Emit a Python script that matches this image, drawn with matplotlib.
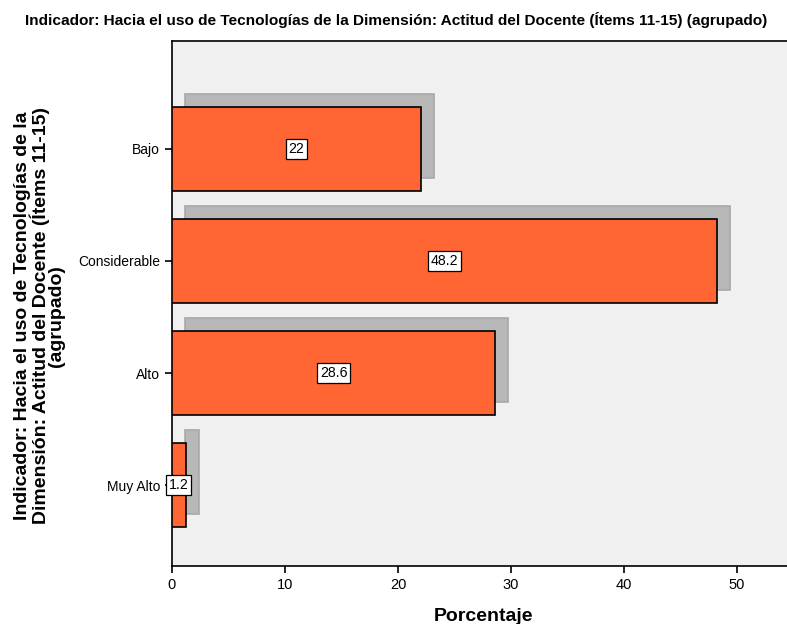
import matplotlib
matplotlib.use("Agg")
import matplotlib.pyplot as plt

categories = ["Bajo", "Considerable", "Alto", "Muy Alto"]
values = [22.0, 48.2, 28.6, 1.2]
xticks = [0, 10, 20, 30, 40, 50]

title = "Indicador: Hacia el uso de Tecnologías de la Dimensión: Actitud del Docente (Ítems 11-15) (agrupado)"
ylabel = "Indicador: Hacia el uso de Tecnologías de la\nDimensión: Actitud del Docente (Ítems 11-15)\n(agrupado)"
xlabel = "Porcentaje"

plt.rcParams["font.family"] = ["Liberation Sans", "DejaVu Sans"]

W, H = 787, 624
fig = plt.figure(figsize=(W / 100, H / 100), dpi=100)
ax_w = (W + 8 - 172) / W
ax = fig.add_axes([172 / W, 1 - 566 / H, ax_w, (566 - 41) / H])
ax.set_facecolor("#f0f0f0")

n = len(categories)
pos = [n - 1 - i for i in range(n)]
h = 0.75
dx, dy = 1.15, 0.115
for p, v in zip(pos, values):
    ax.barh(p + dy, v, left=dx, height=h, color="#b8b8b8", edgecolor="#a8a8a8", linewidth=1.2, zorder=2)
for p, v in zip(pos, values):
    ax.barh(p, v, height=h, color="#ff6633", edgecolor="black", linewidth=1.2, zorder=3)
    ax.text(v / 2, p, f"{v:g}", ha="center", va="center", fontsize=10.2, zorder=5,
            bbox=dict(boxstyle="square,pad=0.2", fc="white", ec="black", lw=0.9))

px_per_unit = 11.3
ax.set_xlim(0, (W + 8 - 172) / px_per_unit)
ax.set_ylim(-0.72, 3.96)
ax.set_yticks(pos)
ax.set_yticklabels(categories, fontsize=10)
ax.set_xticks(xticks)
ax.set_xticklabels([str(t) for t in xticks], fontsize=10.5)
ax.tick_params(axis="both", direction="out", length=5, width=1.2, color="black")
ax.spines["right"].set_visible(False)
for s in ["left", "bottom", "top"]:
    ax.spines[s].set_linewidth(1.2)

ax.set_xlabel(xlabel, fontsize=14, fontweight="bold", labelpad=12)
ax.set_ylabel(ylabel, fontsize=14, fontweight="bold", linespacing=0.88)
ax.yaxis.set_label_coords(-(172 - 65) / (ax_w * W), (566 - 316) / (566 - 41))

fig.text((22 + 770) / 2 / W, 1 - 20 / H, title, ha="center", va="center", fontsize=11.05,
         fontweight="bold")

fig.savefig("out.png", dpi=100)
